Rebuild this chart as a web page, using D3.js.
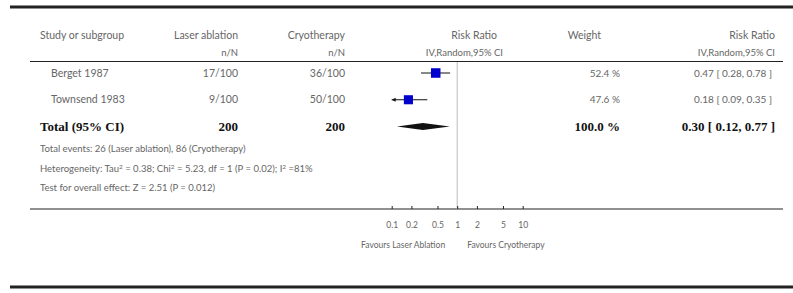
<html>
<head>
<meta charset="utf-8">
<script src="https://d3js.org/d3.v7.min.js"></script>
<style>
body { margin: 0; background: #fff; }
text { font-family: Lato, "Open Sans", sans-serif; fill: #666; }
.bold { font-family: "Liberation Serif", serif; font-weight: bold; fill: #111; font-size: 13px; }
</style>
</head>
<body>
<svg id="chart" width="793" height="293"></svg>
<script>

var studies = ["Berget 1987", "Townsend 1983"]
var laserN  = ["17/100", "9/100"]
var cryoN   = ["36/100", "50/100"]
var rr      = [0.47, 0.18]
var lower   = [0.28, 0.09]
var upper   = [0.78, 0.35]
var weight  = [52.4, 47.6]
var totalRR = [0.30, 0.12, 0.77]
var totalN  = [200, 200]
var ticks   = [0.1, 0.2, 0.5, 1, 2, 5, 10]
var tickLabels = ["0.1", "0.2", "0.5", "1", "2", "5", "10"]

var svg = d3.select("#chart")

var x = d3.scaleLog().domain([0.1, 10]).range([391.7, 522.7])
var rowY = d3.scalePoint().domain(studies.concat(["Total"])).range([73, 126.5])

var fmt = d3.format(".2f")

// rules
svg.append("line").attr("x1", 10).attr("x2", 793).attr("y1", 7).attr("y2", 7)
	.attr("stroke", "#222").attr("stroke-width", 2.8)
svg.append("line").attr("x1", 30).attr("x2", 783).attr("y1", 61.5).attr("y2", 61.5)
	.attr("stroke", "#222").attr("stroke-width", 1.2)
svg.append("line").attr("x1", 30).attr("x2", 783).attr("y1", 209).attr("y2", 209)
	.attr("stroke", "#222").attr("stroke-width", 1.2)
svg.append("line").attr("x1", 10).attr("x2", 793).attr("y1", 287).attr("y2", 287)
	.attr("stroke", "#222").attr("stroke-width", 2.8)

// line of no effect
svg.append("line").attr("x1", x(1)).attr("x2", x(1)).attr("y1", 62).attr("y2", 209)
	.attr("stroke", "#bbb").attr("stroke-width", 1)

// headers
var head = [
	{t: "Study or subgroup", x: 40, y: 38.5, a: "start"},
	{t: "Laser ablation", x: 238, y: 38.5, a: "end"},
	{t: "n/N", x: 238, y: 55.5, a: "end"},
	{t: "Cryotherapy", x: 345, y: 38.5, a: "end"},
	{t: "n/N", x: 345, y: 55.5, a: "end"},
	{t: "Risk Ratio", x: 497, y: 38.5, a: "end"},
	{t: "IV,Random,95% CI", x: 503, y: 55.5, a: "end"},
	{t: "Weight", x: 601, y: 38.5, a: "end"},
	{t: "Risk Ratio", x: 775, y: 38.5, a: "end"},
	{t: "IV,Random,95% CI", x: 775, y: 55.5, a: "end"}
]
svg.selectAll(".head").data(head).enter().append("text")
	.attr("class", "head")
	.attr("x", d => d.x).attr("y", d => d.y)
	.attr("text-anchor", d => d.a)
	.attr("font-size", d => d.t.indexOf("IV") == 0 || d.t == "n/N" ? 9.5 : 10.5)
	.text(d => d.t)

// study rows
studies.forEach(function(s, i) {
	var y = rowY(s) + 3.5
	svg.append("text").attr("x", 51).attr("y", y).attr("font-size", 10.5).text(s)
	svg.append("text").attr("x", 238).attr("y", y).attr("font-size", 10.5).attr("text-anchor", "end").text(laserN[i])
	svg.append("text").attr("x", 345).attr("y", y).attr("font-size", 10.5).attr("text-anchor", "end").text(cryoN[i])
	svg.append("text").attr("x", 620).attr("y", y).attr("font-size", 10).attr("text-anchor", "end").text(weight[i].toFixed(1) + " %")
	svg.append("text").attr("x", 772).attr("y", y).attr("font-size", 10).attr("text-anchor", "end")
		.text(fmt(rr[i]) + " [ " + fmt(lower[i]) + ", " + fmt(upper[i]) + " ]")

	var lo = Math.max(lower[i], x.domain()[0])
	svg.append("line").attr("x1", x(lo)).attr("x2", x(upper[i]))
		.attr("y1", rowY(s)).attr("y2", rowY(s)).attr("stroke", "#111").attr("stroke-width", 1)
	if (lower[i] < x.domain()[0]) {
		var ax = x(x.domain()[0])
		svg.append("path")
			.attr("d", `M${ax},${rowY(s)} l4,-2 l0,4 z`)
			.attr("fill", "#111")
	}
	var size = 9.3 * Math.sqrt(weight[i] / 50)
	svg.append("rect")
		.attr("x", x(rr[i]) - size / 2).attr("y", rowY(s) - size / 2)
		.attr("width", size).attr("height", size)
		.attr("fill", "#0000cc")
})

// total row
var ty = rowY("Total")
svg.append("text").attr("class", "bold").attr("x", 40).attr("y", ty + 4.5).text("Total (95% CI)")
svg.append("text").attr("class", "bold").attr("x", 238).attr("y", ty + 4.5).attr("text-anchor", "end").text(totalN[0])
svg.append("text").attr("class", "bold").attr("x", 345).attr("y", ty + 4.5).attr("text-anchor", "end").text(totalN[1])
svg.append("text").attr("class", "bold").attr("x", 620).attr("y", ty + 4.5).attr("text-anchor", "end")
	.text(d3.sum(weight).toFixed(1) + " %")
svg.append("text").attr("class", "bold").attr("x", 775).attr("y", ty + 4.5).attr("text-anchor", "end")
	.text(fmt(totalRR[0]) + " [ " + fmt(totalRR[1]) + ", " + fmt(totalRR[2]) + " ]")

svg.append("path")
	.attr("d", `M${x(totalRR[1])},${ty} L${x(totalRR[0])},${ty - 3.5} L${x(totalRR[2])},${ty} L${x(totalRR[0])},${ty + 3.5} Z`)
	.attr("fill", "#111")

// footnotes
svg.append("text").attr("x", 40).attr("y", 151.5).attr("font-size", 9.5)
	.text("Total events: 26 (Laser ablation), 86 (Cryotherapy)")

var het = svg.append("text").attr("x", 40).attr("y", 171.5).attr("font-size", 9.5)
het.append("tspan").text("Heterogeneity: Tau")
het.append("tspan").attr("baseline-shift", "super").attr("font-size", 6.5).text("2")
het.append("tspan").text(" = 0.38; Chi")
het.append("tspan").attr("baseline-shift", "super").attr("font-size", 6.5).text("2")
het.append("tspan").text(" = 5.23, df = 1 (P = 0.02); I")
het.append("tspan").attr("baseline-shift", "super").attr("font-size", 6.5).text("2")
het.append("tspan").text(" =81%")

svg.append("text").attr("x", 40).attr("y", 190.5).attr("font-size", 9.5)
	.text("Test for overall effect: Z = 2.51 (P = 0.012)")

// axis
var axis = svg.append("g")
	.attr("transform", "translate(0,209)")
	.call(d3.axisBottom(x).tickValues(ticks).tickFormat((d, i) => tickLabels[i])
		.tickSizeInner(-3).tickSizeOuter(0).tickPadding(13))
axis.select(".domain").remove()
axis.selectAll("line").attr("stroke", "#222")
axis.selectAll("text").attr("font-size", 8.5).attr("font-family", "Lato, sans-serif").style("fill", "#666")

svg.append("text").attr("x", x(1) - 12).attr("y", 248).attr("font-size", 8.5)
	.attr("text-anchor", "end").text("Favours Laser Ablation")
svg.append("text").attr("x", x(1) + 10).attr("y", 248).attr("font-size", 8.5)
	.text("Favours Cryotherapy")

</script>
</body>
</html>
